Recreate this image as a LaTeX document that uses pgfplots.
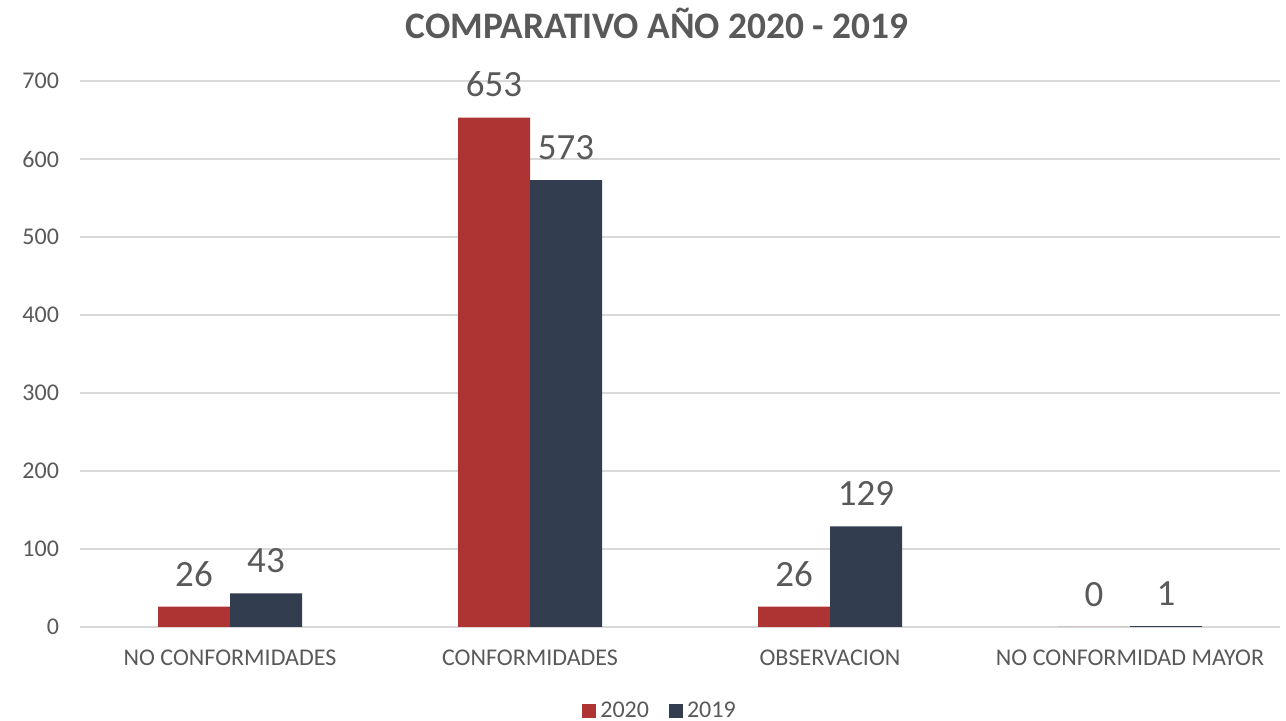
\documentclass[border=0pt]{standalone}
\usepackage{fontspec}
\setmainfont{Carlito}
\usepackage{pgfplots}
\pgfplotsset{compat=1.18}
\definecolor{cred}{HTML}{AE3333}
\definecolor{cnavy}{HTML}{323E50}
\definecolor{ctext}{HTML}{595959}
\definecolor{cgrid}{HTML}{D9D9D9}
\begin{document}
\begin{tikzpicture}
\path[use as bounding box] (-40pt,-47pt) rectangle (603pt,313.5pt);
\begin{axis}[
  scale only axis,
  width=600pt, height=273pt,
  anchor=south west, at={(0pt,0pt)},
  ybar=0pt, bar width=36pt,
  xmin=-0.5, xmax=3.5,
  ymin=0, ymax=700,
  ytick={0,100,...,700},
  xtick={0,1,2,3},
  xticklabels={NO CONFORMIDADES, CONFORMIDADES, OBSERVACION, NO CONFORMIDAD MAYOR},
  /pgf/number format/assume math mode=true,
  axis line style={draw=none},
  major tick length=0pt,
  ymajorgrids, grid style={cgrid, line width=0.6pt},
  extra y ticks={0}, extra y tick labels={},
  extra y tick style={grid style={cgrid,line width=0.8pt}},
  tick label style={font=\fontsize{12}{14}\selectfont, text=ctext},
  yticklabel style={xshift=-7pt},
  xticklabel style={yshift=-8pt},
  title={COMPARATIVO AÑO 2020 - 2019},
  title style={font=\fontsize{18.7}{22}\selectfont\bfseries, text=ctext, at={(axis description cs:0.481,1)}, anchor=base, yshift=15pt},
  nodes near coords,
  nodes near coords style={font=\fontsize{18.5}{22}\selectfont, text=ctext, anchor=south, inner sep=0pt, yshift=10pt, /pgf/number format/assume math mode=true},
  legend style={at={(axis description cs:0.4842,-0.154)}, anchor=center, draw=none, legend columns=2, font=\fontsize{12}{14}\selectfont, text=ctext, /tikz/every even column/.append style={column sep=8pt}},
  legend image code/.code={\fill[#1] (0pt,-3.5pt) rectangle (7pt,3.5pt);},
]
\addplot[fill=cred, draw=none] coordinates {(0,26) (1,653) (2,26) (3,0)};
\addplot[fill=cnavy, draw=none] coordinates {(0,43) (1,573) (2,129) (3,1)};
\legend{2020,2019}
\end{axis}
\end{tikzpicture}
\end{document}
